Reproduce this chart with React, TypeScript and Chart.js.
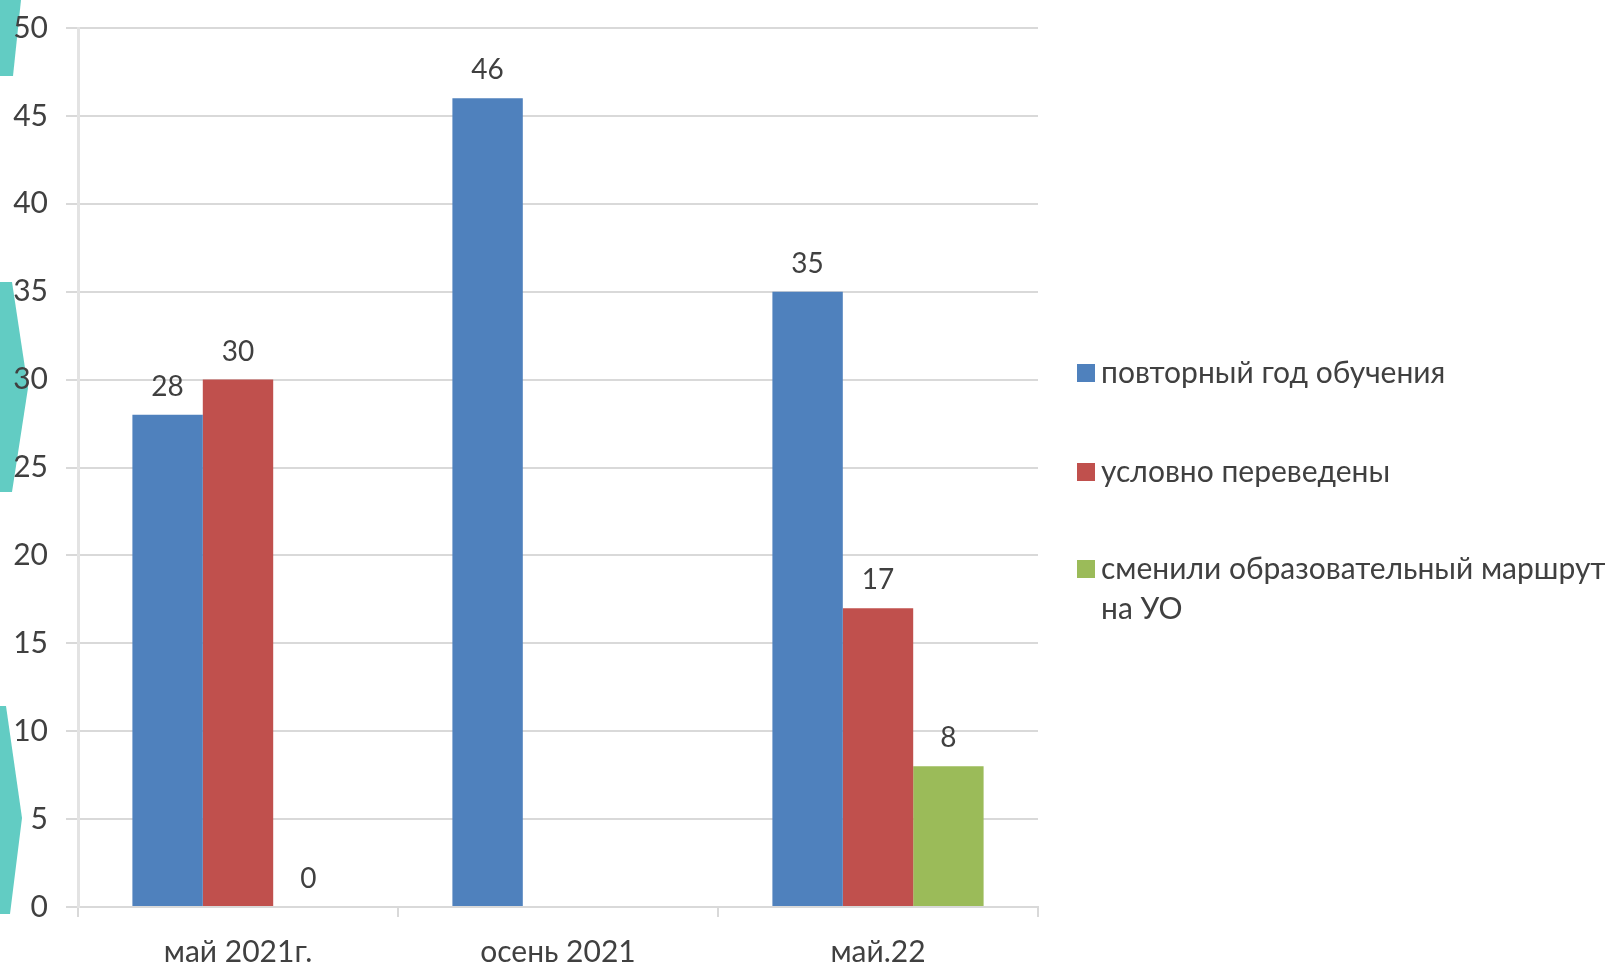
import React, { useEffect, useRef } from "react";
import { Chart, registerables } from "chart.js";

Chart.register(...registerables);

const categories = ["май 2021г.", "осень 2021", "май.22"];
const seriesNames = [
  "повторный год обучения",
  "условно переведены",
  "сменили образовательный маршрут на УО",
];
const legendLines = [
  ["повторный год обучения"],
  ["условно переведены"],
  ["сменили образовательный маршрут", "на УО"],
];
const repeatYear: (number | null)[] = [28, 46, 35];
const conditional: (number | null)[] = [30, null, 17];
const changedRoute: (number | null)[] = [0, null, 8];
const colors = ["#4F81BD", "#C0504D", "#9BBB59"];
const yTicks = [0, 5, 10, 15, 20, 25, 30, 35, 40, 45, 50];

const FONT = "Lato, 'Open Sans', 'Noto Sans', sans-serif";
const TEXT = "#404040";

const labelsPlugin = {
  id: "customLabels",
  afterDatasetsDraw(chart: any) {
    const ctx = chart.ctx;
    ctx.save();
    ctx.font = `28px ${FONT}`;
    ctx.fillStyle = TEXT;
    ctx.textAlign = "center";
    ctx.textBaseline = "middle";
    chart.data.datasets.forEach((ds: any, di: number) => {
      const meta = chart.getDatasetMeta(di);
      meta.data.forEach((el: any, i: number) => {
        const v = ds.data[i];
        if (v === null || v === undefined) return;
        ctx.fillText(String(v), el.x, el.y - 28);
      });
    });
    ctx.restore();
  },
  afterDraw(chart: any) {
    const ctx = chart.ctx;
    ctx.save();
    ctx.font = `30px ${FONT}`;
    ctx.textBaseline = "middle";
    ctx.textAlign = "left";
    const boxX = 1077;
    const textX = 1101;
    const rows = [373, 472, 569];
    chart.data.datasets.forEach((ds: any, di: number) => {
      const y = rows[di];
      ctx.fillStyle = ds.backgroundColor;
      ctx.fillRect(boxX, y - 9, 18, 18);
      ctx.fillStyle = TEXT;
      legendLines[di].forEach((line, li) => {
        ctx.fillText(line, textX, y + li * 40);
      });
    });
    ctx.restore();
  },
};

export default function App() {
  const ref = useRef<HTMLCanvasElement | null>(null);
  useEffect(() => {
    document.body.style.margin = "0";
    const canvas = ref.current!;
    const chart = new Chart(canvas, {
      type: "bar",
      data: {
        labels: categories,
        datasets: [repeatYear, conditional, changedRoute].map((d, i) => ({
          label: seriesNames[i],
          data: d,
          backgroundColor: colors[i],
          borderWidth: 0,
          categoryPercentage: 0.66,
          barPercentage: 1.0,
        })),
      },
      options: {
        animation: false,
        responsive: false,
        maintainAspectRatio: false,
        layout: { padding: { left: 0, top: 28, right: 571, bottom: 0 } },
        plugins: {
          legend: { display: false },
          tooltip: { enabled: false },
          title: { display: false },
        },
        scales: {
          x: {
            afterFit: (s: any) => {
              s.height = 61;
              s.paddingTop = 0;
              s.paddingBottom = 0;
            },
            grid: {
              drawOnChartArea: false,
              drawTicks: true,
              tickLength: 10,
              color: "#D9D9D9",
              lineWidth: 2,
            },
            border: { color: "#D9D9D9", width: 2 },
            ticks: {
              font: { family: FONT, size: 30 },
              color: TEXT,
              padding: 17,
            },
          },
          y: {
            min: 0,
            max: 50,
            afterFit: (s: any) => {
              s.width = 78;
              s.paddingTop = 0;
              s.paddingBottom = 0;
            },
            afterBuildTicks: (s: any) => {
              s.ticks = yTicks.map((v) => ({ value: v }));
            },
            grid: {
              color: "#D9D9D9",
              lineWidth: 2,
              tickLength: 12,
            },
            border: { color: "#E3E3E3", width: 3 },
            ticks: {
              font: { family: FONT, size: 30 },
              color: TEXT,
              padding: 18,
            },
          },
        },
      },
      plugins: [labelsPlugin],
    });
    return () => chart.destroy();
  }, []);

  const teal = "#62CCC3";
  const shape = (clip: string) => ({
    position: "absolute" as const,
    left: 0,
    top: 0,
    width: 40,
    height: 968,
    background: teal,
    clipPath: clip,
  });

  return (
    <div style={{ position: "relative", width: 1609, height: 968, background: "#fff", overflow: "hidden" }}>
      <div style={shape("polygon(0px 0px, 21px 0px, 13px 76px, 0px 76px)")} />
      <div style={shape("polygon(0px 282px, 12px 282px, 28px 388px, 12px 492px, 0px 492px)")} />
      <div style={shape("polygon(0px 706px, 6px 706px, 22px 818px, 10px 914px, 0px 914px)")} />
      <canvas ref={ref} width={1609} height={968} style={{ position: "absolute", left: 0, top: 0 }} />
    </div>
  );
}
